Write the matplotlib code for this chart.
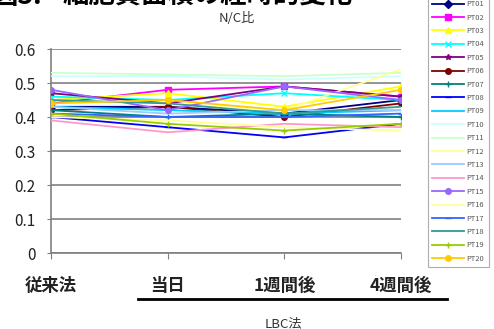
import matplotlib
matplotlib.use("Agg")
import matplotlib.pyplot as plt
from matplotlib.lines import Line2D

plt.rcParams['font.family'] = ['Noto Sans CJK JP', 'DejaVu Sans']

categories = ["従来法", "当日", "1週間後", "4週間後"]
series_names = [f"PT{i:02d}" for i in range(1, 21)]

pt01 = [0.43, 0.43, 0.41, 0.45]
pt02 = [0.44, 0.48, 0.49, 0.46]
pt03 = [0.45, 0.47, 0.43, 0.49]
pt04 = [0.46, 0.45, 0.47, 0.45]
pt05 = [0.47, 0.44, 0.49, 0.46]
pt06 = [0.42, 0.43, 0.40, 0.44]
pt07 = [0.42, 0.40, 0.41, 0.40]
pt08 = [0.40, 0.37, 0.34, 0.38]
pt09 = [0.43, 0.42, 0.41, 0.42]
pt10 = [0.52, 0.52, 0.51, 0.52]
pt11 = [0.53, 0.525, 0.52, 0.53]
pt12 = [0.45, 0.44, 0.42, 0.54]
pt13 = [0.43, 0.41, 0.42, 0.42]
pt14 = [0.39, 0.355, 0.38, 0.37]
pt15 = [0.48, 0.42, 0.49, 0.45]
pt16 = [0.40, 0.39, 0.37, 0.36]
pt17 = [0.41, 0.40, 0.40, 0.41]
pt18 = [0.45, 0.44, 0.41, 0.43]
pt19 = [0.41, 0.38, 0.36, 0.38]
pt20 = [0.44, 0.45, 0.42, 0.48]

values = [pt01, pt02, pt03, pt04, pt05, pt06, pt07, pt08, pt09, pt10,
          pt11, pt12, pt13, pt14, pt15, pt16, pt17, pt18, pt19, pt20]

colors = ["#000080", "#FF00FF", "#FFFF00", "#00FFFF", "#800080",
          "#800000", "#008080", "#0000FF", "#00CCFF", "#CCFFFF",
          "#CCFFCC", "#FFFF99", "#99CCFF", "#FF99CC", "#9966FF",
          "#FFFF99", "#3366FF", "#339999", "#99CC00", "#FFCC00"]
markers = ["D", "s", "^", "x", "*", "o", "+", "_", "", "",
           "", "", "", "", "o", "", "_", "", "+", "o"]

W, H = 494, 329
fig = plt.figure(figsize=(W / 100, H / 100), dpi=100)
ax = fig.add_axes([51 / W, (H - 253) / H, (401 - 51) / W, (253 - 49) / H])

x = list(range(len(categories)))
for name, vals, c, m in zip(series_names, values, colors, markers):
    ax.plot(x, vals, color=c, lw=1.3, marker=m if m else None,
            markersize=4, markerfacecolor=c, markeredgecolor=c,
            markeredgewidth=1, label=name, zorder=3)

ax.set_xlim(0, 3)
ax.set_ylim(0, 0.6)
ax.set_yticks([0, 0.1, 0.2, 0.3, 0.4, 0.5, 0.6])
ax.set_yticklabels(["0", "0.1", "0.2", "0.3", "0.4", "0.5", "0.6"])
ax.set_xticks(x)
ax.set_xticklabels(categories, fontsize=12.5, fontweight="bold", color="#222222")
ax.tick_params(axis="x", length=4, color="#808080", pad=13)
ax.tick_params(axis="y", length=3, color="#808080", labelsize=11, labelcolor="#222222", pad=8)
ax.grid(axis="y", color="#808080", lw=1.2, zorder=1)
for s in ["top", "right"]:
    ax.spines[s].set_visible(False)
for s in ["left", "bottom"]:
    ax.spines[s].set_color("#808080")
    ax.spines[s].set_linewidth(1.2)

fig.text(237 / W, 1 - 18 / H, "N/C比", fontsize=9.5, color="#333333", ha="center", va="center")

# heading, partly clipped at the top edge
fig.text(42 / W, 1 - 4 / H, "図3.", fontsize=19, fontweight="bold", ha="right", va="baseline")
fig.text(63 / W, 1 - 4 / H, "細胞質面積の経時的変化", fontsize=19, fontweight="bold", ha="left", va="baseline")

# bracket line under the LBC categories
fig.add_artist(Line2D([138 / W, 447 / W], [1 - 299 / H, 1 - 299 / H], color="black", lw=2))
fig.text(283 / W, 1 - 324 / H, "LBC法", fontsize=9.5, color="#333333", ha="center", va="center")

leg = fig.legend(loc="upper left", bbox_to_anchor=(428 / W, 1 + 4 / H), fontsize=5.4,
                 frameon=True, fancybox=False, handlelength=4.2, handletextpad=0.4,
                 labelspacing=0.72, borderpad=0.55, borderaxespad=0)
leg.get_frame().set_edgecolor("#999999")
leg.get_frame().set_linewidth(0.8)
for t in leg.get_texts():
    t.set_color("#555555")

fig.savefig("out.png", dpi=100)
